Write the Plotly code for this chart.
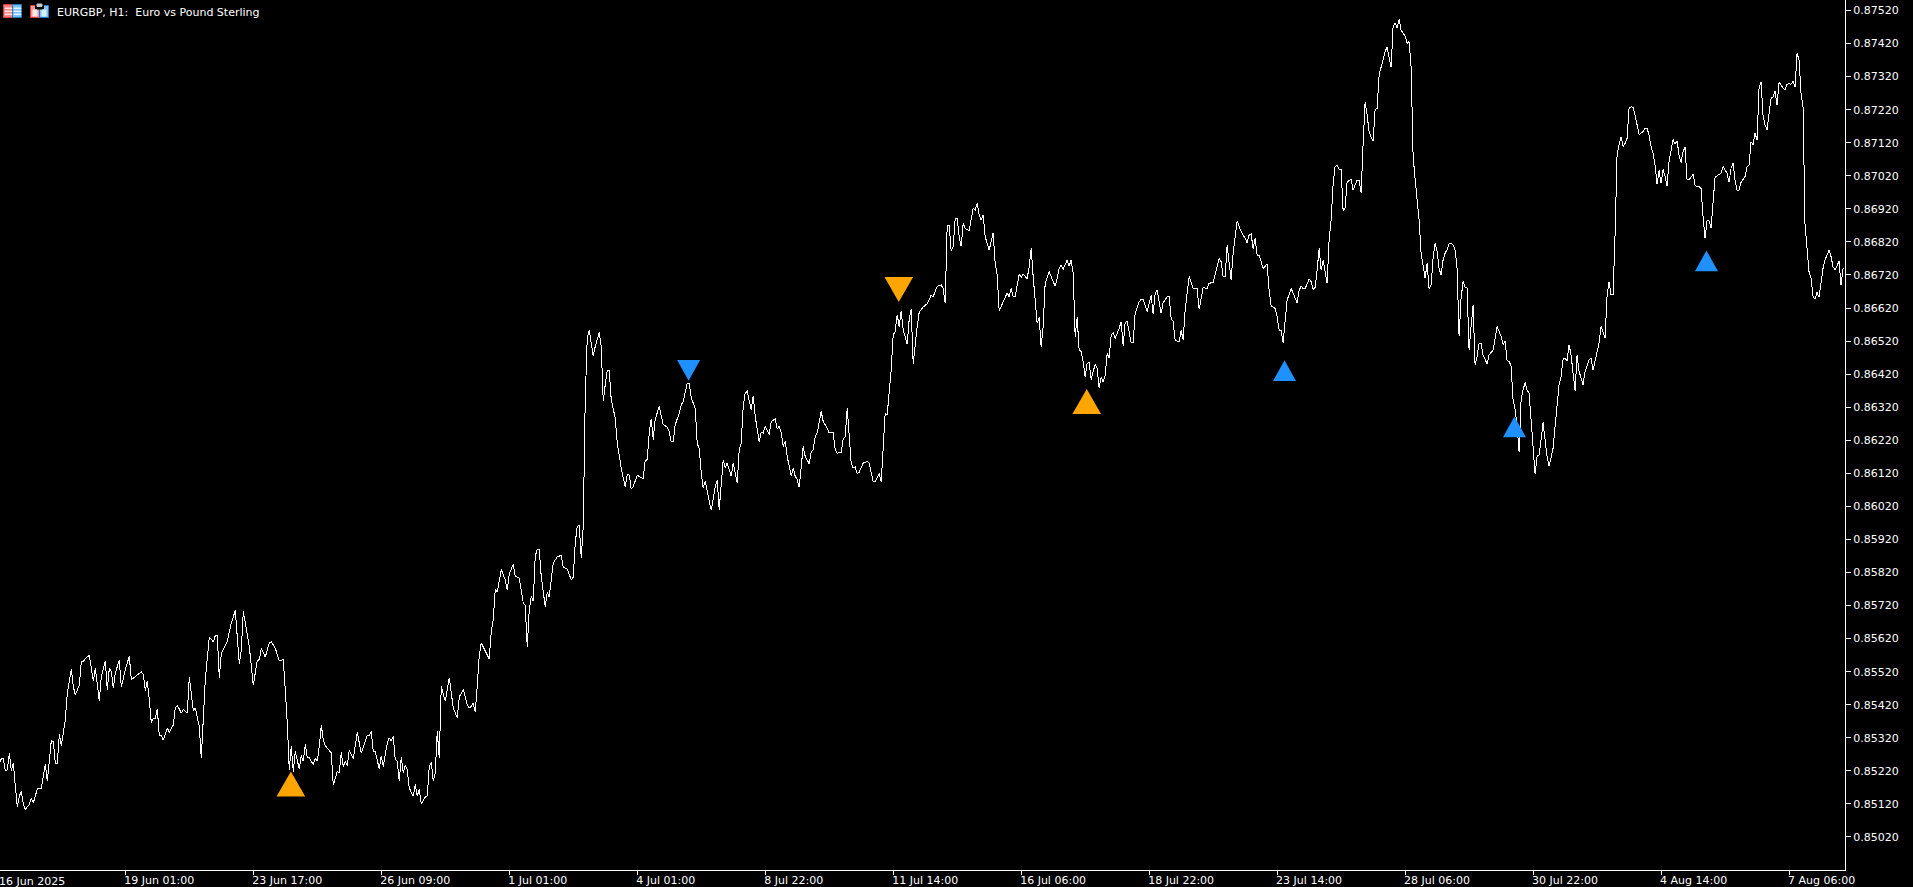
import plotly.graph_objects as go

# (bar number, close), grouped by stretch of the series
close_jun = [(0,.85244),(1,.85256),(2,.85256),(3,.85221),(4,.85223),(5,.85274),(6,.85221),(7,.85244),(8,.85173),(9,.85111),(10,.85143),(11,.85159),(12,.85118),(13,.85104),(15,.85118),(16,.85137),(17,.85123),(19,.85165),(21,.85167),(23,.85239),(24,.85189),(26,.85312),(27,.85308),(28,.85242),(29,.85242),(30,.85330),(31,.85296),(33,.85375),(34,.85455),(36,.85528),(37,.85475),(38,.85449),(40,.85480),(41,.85550),(42,.85550),(43,.85560),(45,.85569),(47,.85491),(48,.85530),(49,.85473),(50,.85431),(51,.85506),(53,.85552),(54,.85465),(55,.85530),(56,.85521),(57,.85470),(58,.85516),(60,.85555),(61,.85473),(63,.85526),(65,.85567),(66,.85496),(71,.85519),(72,.85511),(73,.85462),(74,.85492),(75,.85435),(76,.85365),(77,.85379),(78,.85379),(79,.85407),(80,.85326),(81,.85326),(82,.85313),(84,.85350),(85,.85336),(87,.85359),(88,.85410),(89,.85418),(91,.85395),(92,.85405),(94,.85395),(95,.85504),(96,.85455),(97,.85403),(98,.85410),(100,.85354),(101,.85258),(102,.85365),(103,.85496),(105,.85625),(107,.85610),(108,.85629),(109,.85629),(110,.85500),(111,.85576),(114,.85612),(115,.85642),(116,.85667),(118,.85705),(119,.85617),(120,.85544),(121,.85586),(122,.85702),(123,.85667),(124,.85627),(125,.85596),(127,.85479),(129,.85554),(130,.85556),(131,.85591),(133,.85564),(135,.85608),(136,.85610),(138,.85591),(140,.85553),(142,.85556),(143,.85465),(144,.85365),(145,.85223),(146,.85294),(147,.85218),(148,.85279),(150,.85225),(151,.85266),(152,.85249),(153,.85300),(154,.85259),(155,.85259),(157,.85239),(158,.85257),(159,.85249),(160,.85294),(161,.85358),(162,.85314),(163,.85296),(166,.85274),(167,.85177),(169,.85218),(170,.85215),(171,.85276),(172,.85233),(173,.85249),(174,.85236),(175,.85282),(177,.85256),(179,.85336),(181,.85274),(183,.85314),(184,.85328),(185,.85326),(186,.85339),(187,.85279),(188,.85279),(190,.85225),(191,.85266),(192,.85233),(194,.85304),(195,.85320),(196,.85310),(197,.85324),(198,.85254),(199,.85249),(200,.85189),(201,.85262),(202,.85213),(203,.85237),(204,.85223),(205,.85168),(207,.85143),(208,.85179),(209,.85143),(210,.85165),(211,.85119),(213,.85141),(214,.85145),(215,.85233),(216,.85246),(217,.85189),(218,.85213),(219,.85339),(220,.85259),(221,.85475),(223,.85431),(225,.85502),(227,.85410),(229,.85380),(230,.85443),(232,.85467),(234,.85419),(235,.85410),(236,.85415),(237,.85425),(238,.85397),(239,.85477),(240,.85568)]
close_jul_a = [(241,.85607),(245,.85558),(246,.85642),(247,.85677),(248,.85770),(249,.85760),(251,.85829),(253,.85798),(254,.85766),(255,.85816),(257,.85844),(258,.85808),(260,.85803),(261,.85768),(262,.85728),(263,.85720),(264,.85595),(265,.85706),(266,.85748),(267,.85733),(268,.85869),(269,.85891),(270,.85889),(271,.85808),(273,.85716),(274,.85760),(275,.85746),(277,.85849),(279,.85867),(281,.85872),(282,.85837),(284,.85830),(286,.85798),(287,.85806),(288,.85909),(289,.85960),(290,.85962),(291,.85864),(292,.85960),(293,.86343),(294,.86529),(295,.86554),(296,.86514),(297,.86474),(298,.86504),(300,.86546),(301,.86504),(302,.86338),(303,.86388),(304,.86431),(305,.86431),(306,.86343),(308,.86287),(309,.86212),(311,.86136),(313,.86078),(314,.86117),(315,.86115),(316,.86072),(317,.86080),(319,.86114),(322,.86104),(323,.86159),(324,.86161),(325,.86242),(326,.86284),(327,.86222),(328,.86284),(330,.86322),(332,.86267),(334,.86260),(335,.86247),(336,.86215),(337,.86217),(338,.86267),(340,.86302),(341,.86327),(342,.86337),(344,.86393),(345,.86393),(346,.86348),(348,.86317),(349,.86210),(350,.86196),(351,.86121),(352,.86075),(353,.86096),(356,.86008),(358,.86080),(359,.86099),(360,.86010),(362,.86161),(363,.86136),(364,.86151),(366,.86111),(367,.86151),(369,.86091),(370,.86191),(371,.86212),(372,.86322),(373,.86363),(374,.86368),(376,.86312),(377,.86355),(378,.86292),(380,.86215),(381,.86245),(382,.86242),(383,.86262),(385,.86237),(386,.86277),(388,.86284),(389,.86254),(390,.86262),(391,.86242),(392,.86201),(393,.86217),(394,.86171),(396,.86111),(397,.86136),(398,.86111),(399,.86101),(400,.86078),(402,.86201),(403,.86171),(405,.86149),(406,.86186),(407,.86191),(408,.86232),(409,.86242),(411,.86307),(412,.86277),(414,.86257),(415,.86242),(417,.86244),(418,.86191),(419,.86181),(421,.86183),(422,.86224),(423,.86230),(424,.86317),(425,.86242),(426,.86151),(427,.86136),(428,.86139),(429,.86119),(430,.86123),(432,.86151),(434,.86156),(435,.86151),(437,.86094),(438,.86095),(440,.86119),(441,.86094),(442,.86212),(443,.86302),(444,.86297),(446,.86433),(447,.86539),(448,.86549),(449,.86600),(450,.86564),(451,.86610),(452,.86554),(454,.86511),(455,.86585),(456,.86617),(457,.86451),(459,.86564),(460,.86607),(462,.86623),(464,.86633),(465,.86645)]
close_jul_b = [(466,.86659),(467,.86654),(469,.86686),(471,.86690),(472,.86679),(473,.86634),(474,.86871),(475,.86871),(476,.86793),(477,.86805),(478,.86891),(479,.86891),(480,.86836),(481,.86807),(482,.86876),(483,.86861),(485,.86854),(487,.86921),(488,.86916),(489,.86936),(490,.86901),(491,.86886),(492,.86901),(493,.86836),(495,.86795),(497,.86848),(498,.86755),(499,.86720),(500,.86611),(502,.86639),(504,.86666),(505,.86654),(506,.86679),(507,.86654),(508,.86654),(510,.86722),(511,.86713),(512,.86722),(514,.86709),(515,.86745),(516,.86800),(517,.86715),(518,.86654),(519,.86574),(520,.86592),(521,.86503),(522,.86563),(523,.86695),(525,.86730),(527,.86700),(528,.86686),(529,.86710),(530,.86740),(531,.86750),(532,.86737),(534,.86765),(535,.86747),(536,.86765),(537,.86725),(538,.86533),(539,.86592),(540,.86493),(541,.86488),(542,.86458),(543,.86412),(544,.86453),(545,.86455),(546,.86404),(548,.86450),(549,.86437),(550,.86377),(551,.86412),(552,.86397),(553,.86417),(554,.86483),(555,.86468),(556,.86538),(557,.86545),(558,.86528),(560,.86558),(561,.86579),(562,.86505),(563,.86576),(564,.86579),(566,.86515),(567,.86515),(568,.86604),(570,.86639),(571,.86646),(572,.86646),(574,.86609),(576,.86659),(577,.86601),(578,.86664),(579,.86674),(581,.86604),(582,.86636),(584,.86654),(585,.86654),(586,.86589),(587,.86579),(588,.86523),(590,.86518),(591,.86553),(592,.86523),(593,.86614),(595,.86715),(597,.86679),(599,.86679),(600,.86616),(602,.86682),(604,.86679),(605,.86695),(607,.86697),(608,.86720),(610,.86770),(611,.86760),(612,.86715),(613,.86715),(614,.86810),(616,.86705),(617,.86785),(619,.86884),(621,.86851),(623,.86831),(624,.86817),(625,.86841),(626,.86844),(627,.86800),(628,.86831),(629,.86780),(630,.86780),(632,.86740),(634,.86753),(635,.86674),(636,.86626),(638,.86619),(639,.86594),(640,.86553),(641,.86553),(642,.86515),(643,.86584),(644,.86644),(646,.86679),(649,.86636),(650,.86674),(651,.86686),(652,.86679),(653,.86679),(655,.86707),(656,.86700),(657,.86676),(658,.86682),(659,.86735),(660,.86800),(661,.86735),(662,.86765),(664,.86695),(665,.86826),(666,.86886)]
close_jul_c = [(667,.86995),(668,.87048),(669,.87053),(670,.87040),(671,.87040),(672,.86915),(673,.86922),(674,.87002),(675,.87005),(676,.87009),(677,.86977),(678,.86992),(679,.87007),(680,.87005),(681,.86968),(682,.87118),(683,.87244),(684,.87204),(685,.87154),(686,.87136),(687,.87126),(688,.87219),(689,.87224),(690,.87325),(691,.87350),(692,.87380),(693,.87396),(694,.87409),(695,.87375),(696,.87348),(697,.87471),(698,.87483),(699,.87466),(700,.87493),(701,.87461),(702,.87453),(703,.87443),(704,.87421),(705,.87426),(706,.87350),(707,.87080),(708,.87010),(709,.86952),(710,.86887),(711,.86786),(712,.86745),(713,.86710),(714,.86755),(715,.86677),(716,.86690),(717,.86771),(718,.86816),(719,.86791),(720,.86740),(721,.86719),(722,.86766),(723,.86786),(724,.86796),(725,.86814),(726,.86816),(727,.86811),(728,.86796),(729,.86740),(730,.86534),(731,.86650),(732,.86700),(733,.86683),(734,.86680),(735,.86493),(736,.86564),(737,.86628),(738,.86448),(739,.86473),(740,.86514),(741,.86512),(742,.86478),(743,.86463),(744,.86451),(745,.86478),(747,.86493),(749,.86564),(750,.86549),(751,.86534),(752,.86509),(753,.86519),(754,.86461),(755,.86458),(756,.86445),(757,.86342),(758,.86314),(759,.86262),(760,.86184),(761,.86342),(762,.86372),(763,.86395),(764,.86372),(765,.86362),(766,.86282),(767,.86211),(768,.86117),(769,.86171),(770,.86176),(771,.86221),(772,.86274),(773,.86221),(774,.86171),(775,.86141),(777,.86196),(778,.86262),(779,.86327),(780,.86388),(781,.86413),(782,.86465),(783,.86468),(784,.86461),(785,.86509),(786,.86478),(787,.86423),(788,.86370),(789,.86477),(790,.86428),(792,.86388),(793,.86428),(795,.86463),(796,.86468),(797,.86433),(799,.86483),(800,.86514),(801,.86564),(802,.86549),(803,.86529),(804,.86655),(805,.86700),(806,.86660),(807,.86660)]
close_aug = [(808,.86841),(809,.87083),(810,.87113),(811,.87138),(812,.87108),(813,.87118),(814,.87133),(815,.87224),(816,.87229),(817,.87227),(818,.87204),(819,.87169),(820,.87145),(821,.87149),(822,.87154),(823,.87164),(824,.87164),(825,.87143),(826,.87108),(827,.87088),(828,.87053),(829,.86995),(830,.87036),(831,.86997),(832,.87040),(833,.87018),(834,.86989),(835,.87063),(836,.87103),(837,.87130),(838,.87116),(839,.87126),(840,.87083),(841,.87060),(842,.87093),(843,.87106),(844,.87009),(845,.87009),(846,.87016),(847,.87025),(848,.86992),(849,.86987),(850,.86987),(851,.86982),(852,.86897),(853,.86831),(854,.86884),(855,.86884),(856,.86861),(857,.86927),(858,.87016),(859,.87020),(860,.87023),(861,.87028),(862,.87048),(864,.87028),(865,.87000),(866,.87043),(867,.87058),(868,.87007),(869,.86977),(870,.86977),(871,.87000),(873,.87018),(874,.87048),(875,.87053),(876,.87123),(877,.87113),(878,.87149),(879,.87128),(880,.87285),(881,.87305),(882,.87204),(883,.87174),(884,.87159),(885,.87214),(886,.87254),(887,.87259),(888,.87275),(889,.87234),(890,.87303),(891,.87295),(892,.87285),(893,.87280),(894,.87297),(895,.87298),(896,.87297),(897,.87305),(898,.87288),(899,.87391),(900,.87370),(901,.87270),(902,.87229),(903,.86871),(904,.86801),(905,.86730),(906,.86710),(907,.86655),(908,.86647),(909,.86667),(910,.86653),(911,.86705),(912,.86740),(913,.86766),(914,.86781),(915,.86794),(916,.86776),(917,.86745),(918,.86735),(919,.86750),(920,.86761),(921,.86690),(922,.86740)]

# Signal triangles: bar, apex price, direction (+1 points up, -1 points down)
orange_bars = [145.8, 449.8, 543.8]
orange_apex = [0.85218, 0.86638, 0.86375]
orange_dir = [1, -1, 1]
blue_bars = [344.7, 642.7, 757.7, 853.7]
blue_apex = [0.86400, 0.86462, 0.86292, 0.86794]
blue_dir = [-1, 1, 1, 1]

x_tick_bars = [63, 127, 191, 255, 319, 383, 447, 511, 575, 639, 703, 767, 831, 895]
x_tick_text = ["19 Jun 01:00", "23 Jun 17:00", "26 Jun 09:00", "1 Jul 01:00", "4 Jul 01:00", "8 Jul 22:00",
               "11 Jul 14:00", "16 Jul 06:00", "18 Jul 22:00", "23 Jul 14:00", "28 Jul 06:00", "30 Jul 22:00",
               "4 Aug 14:00", "7 Aug 06:00"]
first_label = "16 Jun 2025"
y_ticks = [0.85020, 0.85120, 0.85220, 0.85320, 0.85420, 0.85520, 0.85620, 0.85720, 0.85820, 0.85920,
           0.86020, 0.86120, 0.86220, 0.86320, 0.86420, 0.86520, 0.86620, 0.86720, 0.86820, 0.86920,
           0.87020, 0.87120, 0.87220, 0.87320, 0.87420, 0.87520]
title_text = "EURGBP, H1:  Euro vs Pound Sterling"

FONT = "DejaVu Sans"
W, H = 1913, 887
ML, MR, MT, MB = 0, 68, 0, 17
PW, PH = W - ML - MR, H - MT - MB

series = close_jun + close_jul_a + close_jul_b + close_jul_c + close_aug
bars = [p[0] for p in series]
closes = [p[1] for p in series]


def triangles(bx, apex, direction, half_w, height):
    xs, ys = [], []
    for b, a, d in zip(bx, apex, direction):
        xs += [b, b - half_w, b + half_w, b, None]
        ys += [a, a - d * height, a - d * height, a, None]
    return xs, ys


fig = go.Figure()
fig.add_trace(go.Scatter(x=bars, y=closes, mode="lines", line=dict(color="#ffffff", width=1),
                         hoverinfo="skip", showlegend=False))
ox, oy = triangles(orange_bars, orange_apex, orange_dir, 7.17, 0.000757)
fig.add_trace(go.Scatter(x=ox, y=oy, mode="lines", fill="toself", fillcolor="#ffa500",
                         line=dict(width=0, color="#ffa500"), hoverinfo="skip", showlegend=False))
bx, by = triangles(blue_bars, blue_apex, blue_dir, 5.75, 0.000626)
fig.add_trace(go.Scatter(x=bx, y=by, mode="lines", fill="toself", fillcolor="#1e90ff",
                         line=dict(width=0, color="#1e90ff"), hoverinfo="skip", showlegend=False))


def px(x):
    return x / PW


def py(y):
    return 1 - y / PH


def rect(x0, y0, x1, y1, fill, line=None):
    return dict(type="rect", xref="paper", yref="paper", x0=px(x0), x1=px(x1), y0=py(y0), y1=py(y1),
                fillcolor=fill, line=dict(color=line or fill, width=1), layer="above")


icons = [
    # table icon
    rect(3.5, 4.5, 12.5, 17.5, "#f08080", "#e03c3c"),
    rect(12.5, 4.5, 21.5, 17.5, "#78bcec", "#1c78c0"),
    rect(5, 8, 12, 8.6, "#ffe0e0"), rect(5, 11, 12, 11.6, "#ffe0e0"), rect(5, 14, 12, 14.6, "#ffe0e0"),
    rect(14, 8, 21, 8.6, "#e0f0ff"), rect(14, 11, 21, 11.6, "#e0f0ff"), rect(14, 14, 21, 14.6, "#e0f0ff"),
    # box icon
    rect(30.5, 5.5, 39.5, 17.5, "#f49a9a", "#e03c3c"),
    rect(39.5, 5.5, 48.5, 17.5, "#84c4f0", "#1c78c0"),
    rect(35.5, 3, 43.5, 9, "#000000"),
    rect(37, 4, 42, 6.5, "#c8c8c8"),
    rect(33, 10, 37, 16, "#ffe8e8"),
    rect(42, 10, 46, 16, "#d8eeff"),
]

fig.update_layout(
    width=W, height=H, autosize=False,
    margin=dict(l=ML, r=MR, t=MT, b=MB, pad=0),
    paper_bgcolor="#000000", plot_bgcolor="#000000",
    showlegend=False, shapes=icons,
    font=dict(family=FONT, size=11, color="#ffffff"),
    xaxis=dict(range=[0.335, 922.985], showgrid=False, zeroline=False, showline=True, linecolor="#ffffff",
               linewidth=1, ticks="outside", ticklen=4, tickwidth=1, tickcolor="#ffffff",
               tickmode="array", tickvals=x_tick_bars, ticktext=x_tick_text,
               ticklabelposition="outside right", ticklabelshift=-2, tickangle=0,
               tickfont=dict(family=FONT, size=11, color="#ffffff")),
    yaxis=dict(range=[0.84920, 0.875518], side="right", showgrid=False, zeroline=False, showline=True,
               linecolor="#ffffff", linewidth=1, ticks="outside", ticklen=5, tickwidth=1, tickcolor="#ffffff",
               tickmode="array", tickvals=y_ticks, tickformat=".5f",
               tickfont=dict(family=FONT, size=11, color="#ffffff")),
    annotations=[
        dict(text=title_text, xref="paper", yref="paper", x=px(55), y=py(12), xanchor="left", yanchor="middle",
             showarrow=False, font=dict(family=FONT, size=11, color="#ffffff")),
        dict(text=first_label, xref="paper", yref="paper", x=px(-3), y=0, xanchor="left", yanchor="top", yshift=-3,
             showarrow=False, font=dict(family=FONT, size=11, color="#ffffff")),
    ],
)

fig.write_html("out.html", config=dict(displayModeBar=False),
               post_script="document.body.style.margin='0';document.body.style.overflow='hidden';"
                           "document.querySelectorAll('.scatterlayer .js-line').forEach("
                           "function(e){e.style.shapeRendering='crispEdges';});")
